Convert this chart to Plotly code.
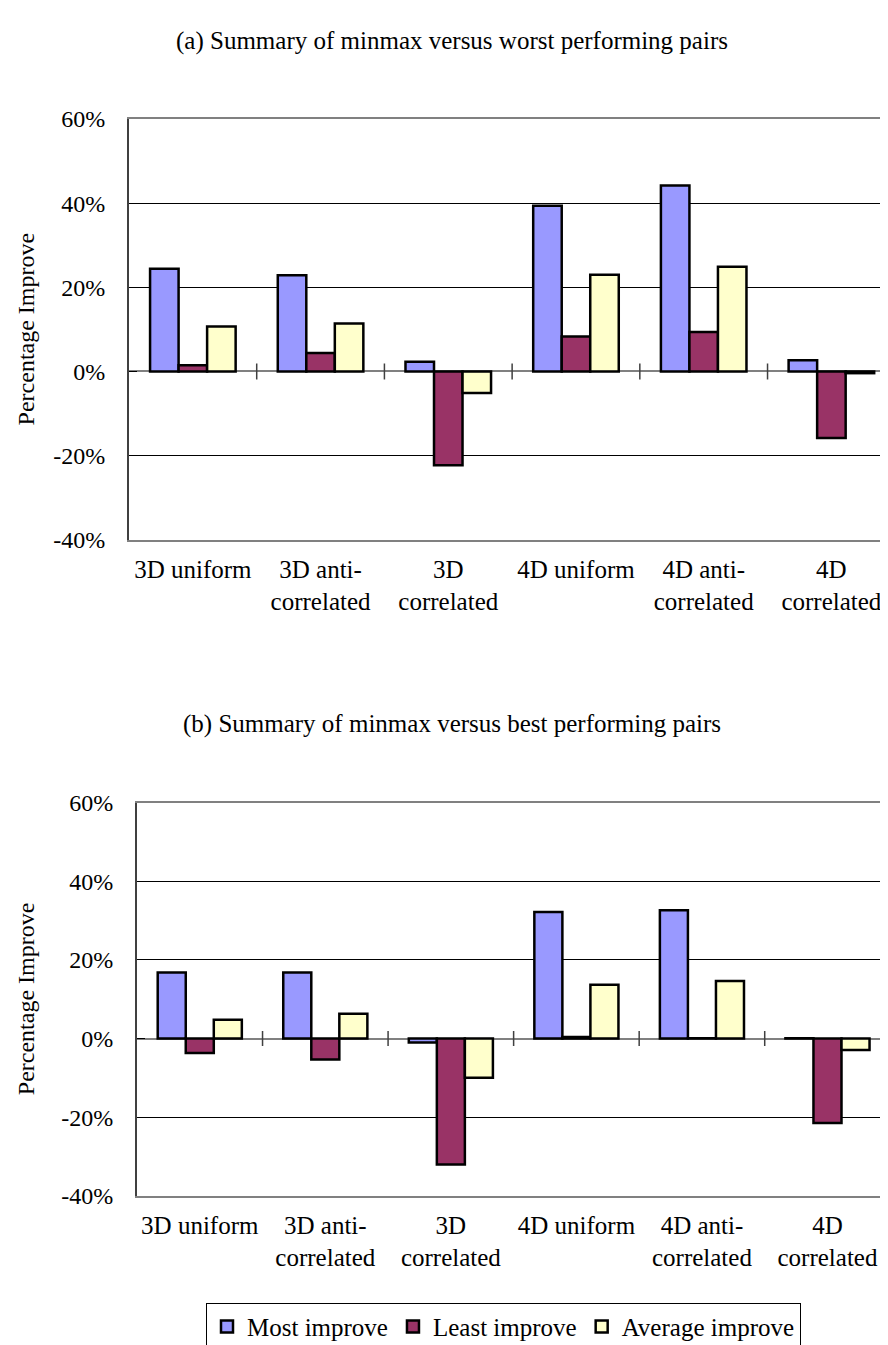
import plotly.graph_objects as go

categories = ["3D uniform", "3D anti-<br>correlated", "3D<br>correlated",
              "4D uniform", "4D anti-<br>correlated", "4D<br>correlated"]
series_names = ["Most improve", "Least improve", "Average improve"]
series_colors = ["#9999FF", "#993366", "#FFFFCC"]

# (a) minmax versus worst performing pairs (percent)
worst_most = [24.4, 22.9, 2.3, 39.4, 44.2, 2.7]
worst_least = [1.5, 4.4, -22.3, 8.3, 9.4, -15.8]
worst_avg = [10.7, 11.4, -5.1, 23.0, 24.9, -0.4]

# (b) minmax versus best performing pairs (percent)
best_most = [16.8, 16.8, -1.0, 32.2, 32.6, 0.1]
best_least = [-3.7, -5.3, -32.0, 0.4, 0.1, -21.5]
best_avg = [4.8, 6.3, -10.0, 13.7, 14.6, -2.9]

tick_vals = [-40, -20, 0, 20, 40, 60]
tick_text = ["-40%", "-20%", "0%", "20%", "40%", "60%"]

titles = ["(a) Summary of minmax versus worst performing pairs",
          "(b) Summary of minmax versus best performing pairs"]

FONT = "Liberation Serif, Times New Roman, serif"
W, H = 888, 1345

fig = go.Figure()

panels = [
    (worst_most, worst_least, worst_avg, "x", "y"),
    (best_most, best_least, best_avg, "x2", "y2"),
]
for pi, (a, b, c, xa, ya) in enumerate(panels):
    for si, vals in enumerate([a, b, c]):
        fig.add_trace(go.Bar(
            x=categories, y=vals, name=series_names[si],
            marker=dict(color=series_colors[si], line=dict(color="black", width=2.5)),
            xaxis=xa, yaxis=ya, showlegend=(pi == 1),
        ))

# pixel geometry of each plot area: left, right, top, bottom, title y, right border shown
panels_px = [(121, 888, 100, 529, 20, False), (129, 883, 797, 1198, 717, True)]

for i, (l, r, t, b, ty, rb) in enumerate(panels_px):
    sx = "" if i == 0 else "2"
    fig.layout["xaxis" + sx] = dict(
        domain=[l / W, r / W], anchor="y" + sx, type="category",
        tickfont=dict(family=FONT, size=25, color="black"),
        ticks="", ticklabelstandoff=6, showgrid=False,
        showline=True, mirror=True, linecolor="#808080", linewidth=2,
    )
    fig.layout["yaxis" + sx] = dict(
        domain=[1 - b / H, 1 - t / H], anchor="x" + sx, range=[-40, 60],
        tickvals=tick_vals, ticktext=tick_text,
        tickfont=dict(family=FONT, size=24, color="black"),
        ticks="inside", ticklen=8, tickcolor="black", tickwidth=1,
        ticklabelstandoff=17,
        showgrid=True, gridcolor="black", gridwidth=1,
        zeroline=True, zerolinecolor="#808080", zerolinewidth=2,
        showline=True, mirror=rb, linecolor="#404040", linewidth=2,
    )
    if rb:
        fig.add_shape(type="line", xref="paper", yref="paper",
                      x0=r / W, x1=r / W, y0=1 - b / H, y1=1 - t / H,
                      line=dict(color="#808080", width=2))
    # tick marks crossing the zero line at category boundaries
    for k in range(1, len(categories) + 1):
        fig.add_shape(type="line", xref="x" + sx, yref="y" + sx,
                      x0=k - 0.5, x1=k - 0.5, y0=-1.9, y1=1.9,
                      line=dict(color="#404040", width=1.5))
    fig.add_annotation(text=titles[i], xref="paper", yref="paper",
                       x=444 / W, y=1 - ty / H, yanchor="middle",
                       showarrow=False, font=dict(family=FONT, size=25, color="black"))
    fig.add_annotation(text="Percentage Improve", xref="paper", yref="paper",
                       x=18 / W, y=1 - ((t + b) / 2) / H, textangle=-90,
                       xanchor="center", yanchor="middle",
                       showarrow=False, font=dict(family=FONT, size=24, color="black"))

fig.update_layout(
    width=W, height=H,
    margin=dict(l=0, r=0, t=0, b=0),
    paper_bgcolor="white", plot_bgcolor="white",
    barmode="group", bargap=0.33, bargroupgap=0,
    font=dict(family=FONT, size=25, color="black"),
    legend=dict(orientation="h", x=198 / W, xanchor="left", y=1 - 1307 / H, yanchor="top",
                bordercolor="black", borderwidth=1, font=dict(family=FONT, size=25),
                itemwidth=30, traceorder="normal"),
)

fig.write_html("out.html")
